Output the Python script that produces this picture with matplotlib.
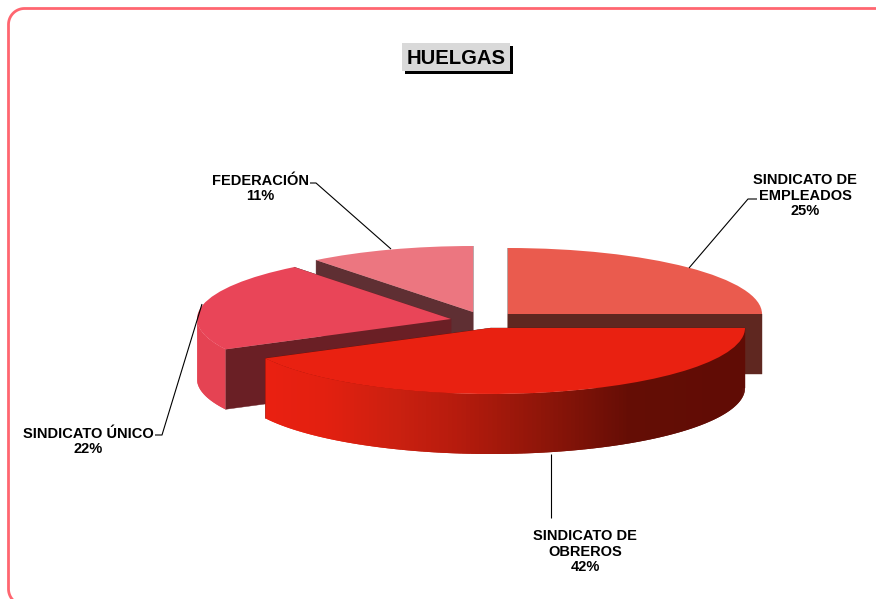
import matplotlib
matplotlib.use("Agg")
import matplotlib.pyplot as plt
import numpy as np
from matplotlib.patches import Polygon, Rectangle
from matplotlib.colors import to_rgb

plt.rcParams['font.family'] = ['Liberation Sans', 'DejaVu Sans']

# data
categories = ["SINDICATO DE\nEMPLEADOS", "SINDICATO DE\nOBREROS", "SINDICATO ÚNICO", "FEDERACIÓN"]
values = [25.0, 42.4, 22.0, 10.6]
top_colors = ["#ea5b4e", "#e92111", "#e94558", "#ec7680"]
cut_colors = ["#5f2720", "#640d05", "#6a1f25", "#5f2f33"]
title = "HUELGAS"

# layout (pixels)
W, H = 876, 599
RX, RY, DEPTH = 254.0, 66.0, 60.0
centers_px = [(508, 314), (491, 328), (451, 319), (473, 312)]
draw_order = [3, 0, 2, 1]
label_px = [(805, 195.5), (585, 551.5), (88.5, 441.5), (260.5, 188.5)]
leaders_px = [
    [(757, 199), (748, 199), (689, 268)],
    [(551, 454), (551, 518)],
    [(155, 435), (162, 435), (202, 304)],
    [(310, 183), (316, 183), (391, 249)],
]
obreros_grad_x = [266, 330, 400, 460, 550, 633, 745]
obreros_grad_c = ["#ea2011", "#e22010", "#ca2010", "#b61b0d", "#8c1509", "#640d05", "#600c05"]
unico_side = "#e54353"

fig = plt.figure(figsize=(W / 100, H / 100), dpi=100, facecolor="white")
ax = fig.add_axes([0, 0, 1, 1])


def X(px):
    return px / RX


def Y(py):
    return (H - py) / RY


def side_color(i, xpx):
    if i == 1:
        rgb = np.array([to_rgb(c) for c in obreros_grad_c])
        return tuple(np.interp(xpx, obreros_grad_x, rgb[:, k]) for k in range(3))
    if i == 2:
        return unico_side
    return cut_colors[i]


for i in draw_order:
    cx, cy = centers_px[i]
    ccx, ccy = X(cx), Y(cy)
    dy = DEPTH / RY
    cols = [top_colors[j] if j == i else "none" for j in range(len(values))]
    wedges, _ = ax.pie(values, colors=cols, startangle=90, counterclock=False,
                       radius=1.0, center=(ccx, ccy), frame=True,
                       wedgeprops={"linewidth": 0}, normalize=True)
    w = wedges[i]
    t1, t2 = w.theta1, w.theta2
    base_z = 2 + draw_order.index(i) * 3
    w.set_zorder(base_z + 2)
    for j, other in enumerate(wedges):
        if j != i:
            other.set_visible(False)

    # cut faces of the slice
    for ang in (t1, t2):
        a = np.deg2rad(ang)
        ex, ey = ccx + np.cos(a), ccy + np.sin(a)
        ax.add_patch(Polygon([(ccx, ccy), (ex, ey), (ex, ey - dy), (ccx, ccy - dy)],
                             closed=True, fc=cut_colors[i], ec=cut_colors[i], lw=0.3,
                             zorder=base_z))
    # outer wall, front half only; each strip overlaps the next to hide seams
    angs = np.arange(t1, t2 + 0.5, 1.0)
    for a0, a1 in zip(angs[:-1], angs[1:]):
        if np.sin(np.deg2rad((a0 + a1) / 2)) >= 0:
            continue
        fine = np.deg2rad(np.linspace(a0, min(a1 + 1.0, t2), 5))
        xs = ccx + np.cos(fine)
        ys = ccy + np.sin(fine)
        col = side_color(i, xs.mean() * RX)
        outline = list(zip(xs, ys)) + list(zip(xs[::-1], ys[::-1] - dy))
        ax.add_patch(Polygon(outline, closed=True, fc=col, ec="none", zorder=base_z + 1))

ax.set_aspect("auto")
ax.set_xlim(0, W / RX)
ax.set_ylim(0, H / RY)
ax.axis("off")

# leaders and labels
for i, name in enumerate(categories):
    pts = leaders_px[i]
    ax.plot([X(p[0]) for p in pts], [Y(p[1]) for p in pts], color="black", lw=0.8,
            zorder=30, solid_capstyle="butt")
    lx, ly = label_px[i]
    ax.text(X(lx), Y(ly), f"{name}\n{values[i]:.0f}%", ha="center", va="center",
            fontsize=10.5, fontweight="bold", color="black", linespacing=1.13, zorder=31)

# title box with hard shadow
overlay = fig.add_axes([0, 0, 1, 1], facecolor="none")
overlay.set_xlim(0, W)
overlay.set_ylim(H, 0)
overlay.axis("off")
overlay.add_patch(Rectangle((405, 46), 108, 28, fc="black", ec="none"))
overlay.add_patch(Rectangle((402, 43), 108, 28, fc="#d9d9d9", ec="none"))
overlay.text(456, 59, title, ha="center", va="center", fontsize=14.6, fontweight="bold", color="black")

# outer rounded border running past the canvas
border_left, border_top, corner_r, low_corner_y = 8.5, 8.5, 16.0, 589.0
arc_low = np.deg2rad(np.linspace(120, 180, 20))
arc_top = np.deg2rad(np.linspace(180, 270, 30))
bx = np.r_[border_left + corner_r + corner_r * np.cos(arc_low),
           border_left + corner_r + corner_r * np.cos(arc_top), W + 5]
by = np.r_[low_corner_y + corner_r * np.sin(arc_low),
           border_top + corner_r + corner_r * np.sin(arc_top), border_top]
overlay.plot(bx, by, color="#ff6670", lw=2.0, solid_capstyle="butt")

fig.savefig("out.png", dpi=100, facecolor="white")
